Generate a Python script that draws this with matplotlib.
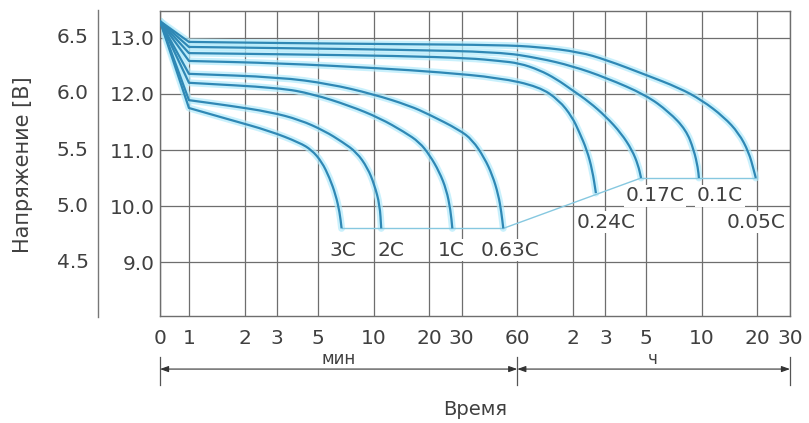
import numpy as np
import matplotlib
matplotlib.use('Agg')
import matplotlib.pyplot as plt
from matplotlib.path import Path
from matplotlib.patches import PathPatch
from matplotlib.ticker import NullLocator
from matplotlib.transforms import blended_transform_factory

# Ось времени в минутах (логарифмическая шкала), "0" - левый край
x_ticks = [0.697, 1, 2, 3, 5, 10, 20, 30, 60, 120, 180, 300, 600, 1200, 1800]
x_labels = ['0', '1', '2', '3', '5', '10', '20', '30', '60', '2', '3', '5', '10', '20', '30']
v12_ticks = [13.0, 12.0, 11.0, 10.0, 9.0]
v6_labels = ['6.5', '6.0', '5.5', '5.0', '4.5']

# Разрядные кривые (время, мин ; напряжение, В)
t_3c = [0.697, 1.0, 1.67, 2.74, 3.98, 4.62, 5.24, 5.78, 6.23, 6.55, 6.71]
v_3c = [13.3, 11.75, 11.54, 11.34, 11.13, 11.0, 10.79, 10.5, 10.2, 9.89, 9.6]

t_2c = [0.697, 1.0, 1.67, 2.74, 3.98, 5.43, 6.80, 8.09, 9.28, 10.1, 10.8, 11.0]
v_2c = [13.3, 11.89, 11.79, 11.68, 11.54, 11.34, 11.14, 10.96, 10.68, 10.38, 10.02, 9.6]

t_1c = [0.697, 1.0, 3.10, 4.68, 7.42, 10.8, 14.7, 17.7, 20.1, 22.7, 24.8, 26.1, 26.7]
v_1c = [13.3, 12.20, 12.11, 12.0, 11.79, 11.57, 11.32, 11.14, 10.91, 10.61, 10.29, 9.93, 9.6]

t_063c = [0.697, 1.0, 3.10, 5.78, 9.88, 15.7, 20.1, 29.1, 34.3, 39.8, 44.0, 47.4, 49.2, 50.4]
v_063c = [13.3, 12.36, 12.30, 12.18, 12.0, 11.79, 11.63, 11.36, 11.18, 10.86, 10.55, 10.20, 9.89, 9.6]

t_024c = [0.697, 1.0, 3.10, 10.8, 22.7, 48.0, 78.9, 101, 119, 130, 143, 153, 160]
v_024c = [13.3, 12.59, 12.55, 12.46, 12.39, 12.29, 12.13, 11.89, 11.59, 11.32, 11.0, 10.64, 10.23]

t_017c = [0.697, 1.0, 3.10, 13.8, 33.0, 48.0, 61.5, 78.9, 97.5, 119, 147, 182, 219, 251, 271, 281]
v_017c = [13.3, 12.73, 12.71, 12.68, 12.64, 12.59, 12.55, 12.43, 12.27, 12.07, 11.86, 11.59, 11.30, 11.0, 10.73, 10.5]

t_01c = [0.697, 1.0, 3.10, 13.8, 48.0, 78.9, 119, 182, 299, 398, 492, 543, 571, 578]
v_01c = [13.3, 12.84, 12.82, 12.79, 12.75, 12.64, 12.50, 12.29, 11.98, 11.68, 11.36, 11.0, 10.68, 10.5]

t_005c = [0.697, 1.0, 3.10, 13.8, 48.0, 78.9, 130, 182, 299, 451, 600, 789, 951, 1077, 1146, 1175]
v_005c = [13.3, 12.93, 12.91, 12.89, 12.875, 12.84, 12.75, 12.61, 12.34, 12.11, 11.89, 11.59, 11.30, 10.96, 10.64, 10.5]

curve_names = ['3C', '2C', '1C', '0.63C', '0.24C', '0.17C', '0.1C', '0.05C']
curves = [(t_3c, v_3c), (t_2c, v_2c), (t_1c, v_1c), (t_063c, v_063c),
          (t_024c, v_024c), (t_017c, v_017c), (t_01c, v_01c), (t_005c, v_005c)]

# Положение подписей кривых
label_pos = [(6.8, 9.21), (12.4, 9.21), (26.4, 9.21), (55, 9.21),
             (182, 9.71), (334, 10.18), (751, 10.18), (1176, 9.71)]

FONT = 'DejaVu Sans'
TXT = '#404040'
GRID = '#6e6e6e'


def smooth_path(t, v):
    # излом в точке 1 мин сохраняется, дальше - квадратичные кривые Безье
    t = np.asarray(t, float)
    v = np.asarray(v, float)
    verts = [(t[0], v[0]), (t[1], v[1]),
             (np.sqrt(t[1] * t[2]), (v[1] + v[2]) / 2)]
    codes = [Path.MOVETO, Path.LINETO, Path.LINETO]
    for i in range(2, len(t) - 1):
        mid = (np.sqrt(t[i] * t[i + 1]), (v[i] + v[i + 1]) / 2)
        verts += [(t[i], v[i]), mid]
        codes += [Path.CURVE3, Path.CURVE3]
    verts.append((t[-1], v[-1]))
    codes.append(Path.LINETO)
    return Path(verts, codes)


fig = plt.figure(figsize=(8.09, 4.23), dpi=100)
ax = fig.add_axes([160 / 809, 1 - 316 / 423, 630 / 809, 305 / 423])
ax.set_xscale('log')
ax.set_xlim(0.697, 1800)
ax.set_ylim(8.036, 13.482)

ax.set_xticks(x_ticks)
ax.set_xticklabels(x_labels, fontsize=14.5, color=TXT, family=FONT)
ax.xaxis.set_minor_locator(NullLocator())
ax.set_yticks(v12_ticks)
ax.set_yticklabels(['%.1f' % v for v in v12_ticks], fontsize=14.5, color=TXT, family=FONT)
ax.tick_params(axis='x', length=0, pad=9)
ax.tick_params(axis='y', length=0, pad=3.5)
ax.grid(True, color=GRID, lw=0.9)
ax.set_axisbelow(True)
for s in ax.spines.values():
    s.set_color(GRID)
    s.set_linewidth(1.0)

# Шкала 6 В
tr_y = blended_transform_factory(ax.transAxes, ax.transData)
for v, lab in zip(v12_ticks, v6_labels):
    ax.text(-0.113, v, lab, transform=tr_y, ha='right', va='center',
            fontsize=14.5, color=TXT, family=FONT)
ax.plot([-0.0985, -0.0985], [-0.003, 1.003], transform=ax.transAxes,
        color='#777777', lw=1.0, clip_on=False)

# Кривые разряда
for (t, v) in curves:
    p = smooth_path(t, v)
    ax.add_patch(PathPatch(p, fill=False, ec='#b3ebfb', lw=5, alpha=0.7, zorder=2,
                           capstyle='round', joinstyle='round'))
    ax.add_patch(PathPatch(p, fill=False, ec='#2f88b5', lw=1.6, zorder=3,
                           joinstyle='round'))

# Линии конечного напряжения
ax.plot([t_3c[-1], t_063c[-1]], [v_3c[-1], v_063c[-1]], color='#86c8e0', lw=1.0, zorder=2)
ax.plot([t_063c[-1], t_017c[-1]], [v_063c[-1], v_017c[-1]], color='#86c8e0', lw=1.0, zorder=2)
ax.plot([t_017c[-1], t_005c[-1]], [v_017c[-1], v_005c[-1]], color='#86c8e0', lw=1.0, zorder=2)

for name, (lx, ly) in zip(curve_names, label_pos):
    ax.text(lx, ly, name, ha='center', va='center', fontsize=14.5, color=TXT,
            family=FONT, zorder=4,
            bbox=dict(boxstyle='square,pad=0.08', fc='white', ec='none'))

# Размерные линии "мин" / "ч"
tr_x = blended_transform_factory(ax.transData, ax.transAxes)
yb = -0.174
arrow = dict(arrowstyle='<|-|>,head_length=0.5,head_width=0.18', color='#333333', lw=0.8,
             shrinkA=0, shrinkB=0)
ax.annotate('', xy=(0.697, yb), xytext=(60, yb), xycoords=tr_x, textcoords=tr_x,
            arrowprops=arrow, annotation_clip=False)
ax.annotate('', xy=(60, yb), xytext=(1800, yb), xycoords=tr_x, textcoords=tr_x,
            arrowprops=arrow, annotation_clip=False)
for xv in [0.697, 60, 1800]:
    ax.plot([xv, xv], [-0.135, -0.225], transform=tr_x, color='#555555', lw=0.9, clip_on=False)

ax.text(0.284, -0.142, 'мин', transform=ax.transAxes, ha='center', va='center',
        fontsize=12, color=TXT, family=FONT)
ax.text(0.7825, -0.142, 'ч', transform=ax.transAxes, ha='center', va='center',
        fontsize=12, color=TXT, family=FONT)
ax.text(0.5, -0.305, 'Время', transform=ax.transAxes, ha='center', va='center',
        fontsize=14, color=TXT, family=FONT)
ax.text(-0.2175, 0.495, 'Напряжение [В]', transform=ax.transAxes, ha='center', va='center',
        rotation=90, fontsize=15, color=TXT, family=FONT)

fig.savefig('out.png', dpi=100)
